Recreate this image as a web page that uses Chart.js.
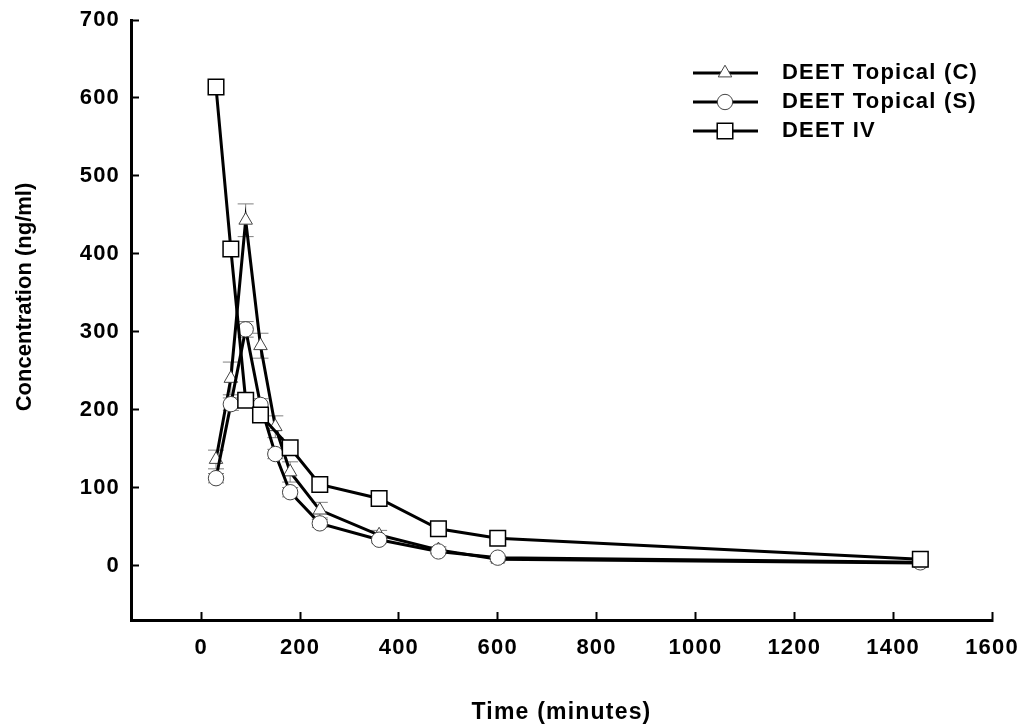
<!DOCTYPE html>
<html>
<head>
<meta charset="utf-8">
<title>DEET concentration vs time</title>
<script src="https://cdn.jsdelivr.net/npm/chart.js@4.4.1/dist/chart.umd.min.js"></script>
<style>
  body { margin: 0; background: #fff; }
  canvas { display: block; }
</style>
</head>
<body>
<canvas id="deetChart" width="1034" height="726"></canvas>
<script>
// sampling times (minutes)
const timesTopical = [30, 60, 90, 120, 150, 180, 240, 360, 480, 600, 1455];
const timesIV = [30, 60, 90, 120, 180, 240, 360, 480, 600, 1455];

// mean concentrations (ng/ml) and error bars
const topicalC = [136, 240, 443, 282, 178, 120, 71, 39, 20, 8, 3];
const topicalCErr = [12, 21, 21, 16, 14, 13, 10, 6, 4, 3, 2];
const topicalS = [112, 207, 303, 206, 143, 94, 54, 33, 18, 10, 4];
const topicalSErr = [6, 8, 10, 8, 6, 6, 5, 4, 3, 2, 1];
const deetIV = [614, 406, 212, 193, 151, 104, 86, 47, 35, 8];
const deetIVErr = [0, 0, 0, 0, 0, 0, 0, 0, 0, 0];

const seriesLabels = ["DEET Topical (C)", "DEET Topical (S)", "DEET IV"];

// tick labels
const xTickValues = [0, 200, 400, 600, 800, 1000, 1200, 1400, 1600];
const yTickValues = [0, 100, 200, 300, 400, 500, 600, 700];

const FONT = "'Liberation Sans', Arial, sans-serif";

function toPoints(xs, ys) {
    return xs.map((x, i) => ({ x: x, y: ys[i] }));
}

function drawMarker(ctx, style, r, x, y) {
    ctx.beginPath();
    if (style === "rect") {
        const s = Math.SQRT1_2 * r;
        ctx.rect(x - s, y - s, 2 * s, 2 * s);
    } else if (style === "triangle") {
        const w = Math.sin(Math.PI * 2 / 3) * r;
        ctx.moveTo(x, y - r);
        ctx.lineTo(x + w, y + r / 2);
        ctx.lineTo(x - w, y + r / 2);
        ctx.closePath();
    } else {
        ctx.arc(x, y, r, 0, Math.PI * 2);
    }
    ctx.fill();
    ctx.stroke();
}

// the original lettering is a bit wider than Liberation Sans
const spacing = {
    id: "spacing",
    beforeDraw(chart) {
        chart.ctx.letterSpacing = "1.2px";
    }
};

// error bars drawn under the lines and markers
const errorBars = {
    id: "errorBars",
    beforeDatasetsDraw(chart) {
        const ctx = chart.ctx;
        const xs = chart.scales.x, ys = chart.scales.y;
        ctx.save();
        ctx.strokeStyle = "#808080";
        ctx.lineWidth = 1;
        chart.data.datasets.forEach(ds => {
            ds.data.forEach((p, i) => {
                const e = ds.errors[i];
                if (!e) return;
                const px = xs.getPixelForValue(p.x);
                const top = ys.getPixelForValue(p.y + e);
                const bot = ys.getPixelForValue(p.y - e);
                ctx.beginPath();
                ctx.moveTo(px, top); ctx.lineTo(px, bot);
                ctx.moveTo(px - 8, top); ctx.lineTo(px + 8, top);
                ctx.moveTo(px - 8, bot); ctx.lineTo(px + 8, bot);
                ctx.stroke();
            });
        });
        ctx.restore();
    }
};

// legend with a line through the marker, and the y axis title
const extras = {
    id: "extras",
    afterDraw(chart) {
        const ctx = chart.ctx;
        ctx.save();
        const rows = [73, 102, 131];
        seriesLabels.forEach((label, i) => {
            const ds = chart.data.datasets.find(d => d.label === label);
            const y = rows[i];
            ctx.strokeStyle = "#000";
            ctx.lineWidth = 3;
            ctx.beginPath();
            ctx.moveTo(693, y); ctx.lineTo(758, y);
            ctx.stroke();
            ctx.fillStyle = "#fff";
            ctx.strokeStyle = ds.pointBorderColor;
            ctx.lineWidth = ds.pointBorderWidth;
            drawMarker(ctx, ds.pointStyle, ds.pointRadius, 725, y);
            ctx.fillStyle = "#000";
            ctx.font = "bold 22px " + FONT;
            ctx.textBaseline = "middle";
            ctx.textAlign = "left";
            ctx.fillText(label, 782, y);
        });

        ctx.letterSpacing = "0px";
        ctx.translate(25, 297);
        ctx.rotate(-Math.PI / 2);
        ctx.font = "bold 22px " + FONT;
        ctx.textAlign = "center";
        ctx.textBaseline = "middle";
        ctx.fillText("Concentration (ng/ml)", 0, 0);
        ctx.restore();
    }
};

const ctx = document.getElementById("deetChart").getContext("2d");
new Chart(ctx, {
    type: "line",
    data: {
        datasets: [
            {
                label: seriesLabels[0],
                data: toPoints(timesTopical, topicalC),
                errors: topicalCErr,
                borderColor: "#000",
                borderWidth: 3,
                pointStyle: "triangle",
                pointRadius: 7.8,
                pointBackgroundColor: "#fff",
                pointBorderColor: "#444",
                pointBorderWidth: 1,
                order: 3
            },
            {
                label: seriesLabels[1],
                data: toPoints(timesTopical, topicalS),
                errors: topicalSErr,
                borderColor: "#000",
                borderWidth: 3,
                pointStyle: "circle",
                pointRadius: 7.7,
                pointBackgroundColor: "#fff",
                pointBorderColor: "#444",
                pointBorderWidth: 1,
                order: 2
            },
            {
                label: seriesLabels[2],
                data: toPoints(timesIV, deetIV),
                errors: deetIVErr,
                borderColor: "#000",
                borderWidth: 3,
                pointStyle: "rect",
                pointRadius: 11,
                pointBackgroundColor: "#fff",
                pointBorderColor: "#000",
                pointBorderWidth: 1.5,
                order: 1
            }
        ]
    },
    options: {
        responsive: false,
        animation: false,
        layout: { padding: { left: 0, right: 42, top: 20, bottom: 0 } },
        plugins: {
            legend: { display: false },
            tooltip: { enabled: false }
        },
        scales: {
            x: {
                type: "linear",
                min: -142,
                max: 1600,
                afterBuildTicks: s => { s.ticks = xTickValues.map(v => ({ value: v })); },
                afterFit: s => { s.height = 106; s.paddingLeft = 0; s.paddingRight = 0; },
                ticks: {
                    color: "#000",
                    font: { family: FONT, size: 22, weight: "bold" },
                    padding: 23,
                    maxRotation: 0,
                    autoSkip: false,
                    callback: v => String(v)
                },
                grid: {
                    drawOnChartArea: false,
                    tickLength: -8,
                    tickColor: "#000",
                    tickWidth: 2
                },
                border: { color: "#000", width: 3 },
                title: {
                    display: true,
                    text: "Time (minutes)",
                    color: "#000",
                    font: { family: FONT, size: 23, weight: "bold" },
                    padding: { top: 0, bottom: 0 }
                }
            },
            y: {
                type: "linear",
                min: -70,
                max: 700,
                afterBuildTicks: s => { s.ticks = yTickValues.map(v => ({ value: v })); },
                afterFit: s => { s.width = 131; s.paddingTop = 0; s.paddingBottom = 0; },
                ticks: {
                    color: "#000",
                    font: { family: FONT, size: 22, weight: "bold" },
                    padding: 19,
                    autoSkip: false,
                    callback: v => String(v)
                },
                grid: {
                    drawOnChartArea: false,
                    tickLength: -8,
                    tickColor: "#000",
                    tickWidth: 2
                },
                border: { color: "#000", width: 3 }
            }
        }
    },
    plugins: [spacing, errorBars, extras]
});
</script>
</body>
</html>
